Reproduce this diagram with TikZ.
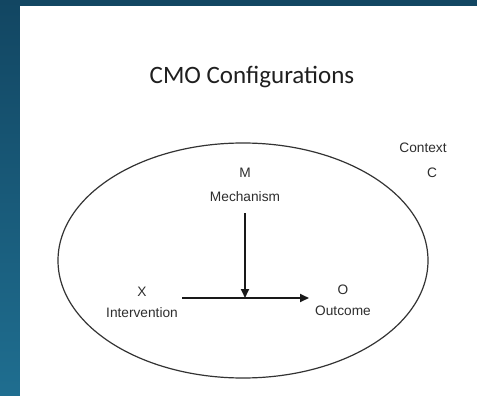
\documentclass[tikz,border=0pt]{standalone}
\usepackage{fontspec}
\setmainfont{Liberation Sans}
\newfontfamily\titlefont{Carlito}
\usetikzlibrary{arrows.meta}
\definecolor{bgtop}{HTML}{124662}
\definecolor{bgbot}{HTML}{1F6E90}
\definecolor{ink}{HTML}{2E2E2E}
\begin{document}
\begin{tikzpicture}[x=1pt,y=-1pt,
  lbl/.style={inner sep=0pt,text=ink,font=\fontsize{13.7}{16}\selectfont},
  conn/.style={draw=black!90,line width=1.7pt,-{Triangle[length=9pt,width=8pt]}}]
\useasboundingbox (0,0) rectangle (477,396);
\shade[top color=bgtop,bottom color=bgbot] (0,0) rectangle (477,396);
\fill[white] (20,6) rectangle (477,396);
\node[inner sep=0pt,font=\titlefont\fontsize{25}{30}\selectfont,text=black!88] (title) at (252,77) {CMO Configurations};
\draw[black!80,line width=1.2pt] (243,260.5) ellipse [x radius=185,y radius=117.5];
\node[lbl] (m) at (245,173) {M};
\node[lbl] (mech) at (245,197) {Mechanism};
\node[lbl] (x) at (142,292) {X};
\node[lbl] (int) at (142,313) {Intervention};
\node[lbl] (o) at (343,290) {O};
\node[lbl] (out) at (343,311) {Outcome};
\node[lbl] (ctx) at (423,148) {Context};
\node[lbl] (c) at (432,173) {C};
\coordinate (hs) at (182,298);
\coordinate (he) at (309,298);
\coordinate (vs) at (245,213);
\coordinate (ve) at (245,298);
\draw[conn] (hs) -- (he);
\draw[conn] (vs) -- (ve);
\end{tikzpicture}
\end{document}
